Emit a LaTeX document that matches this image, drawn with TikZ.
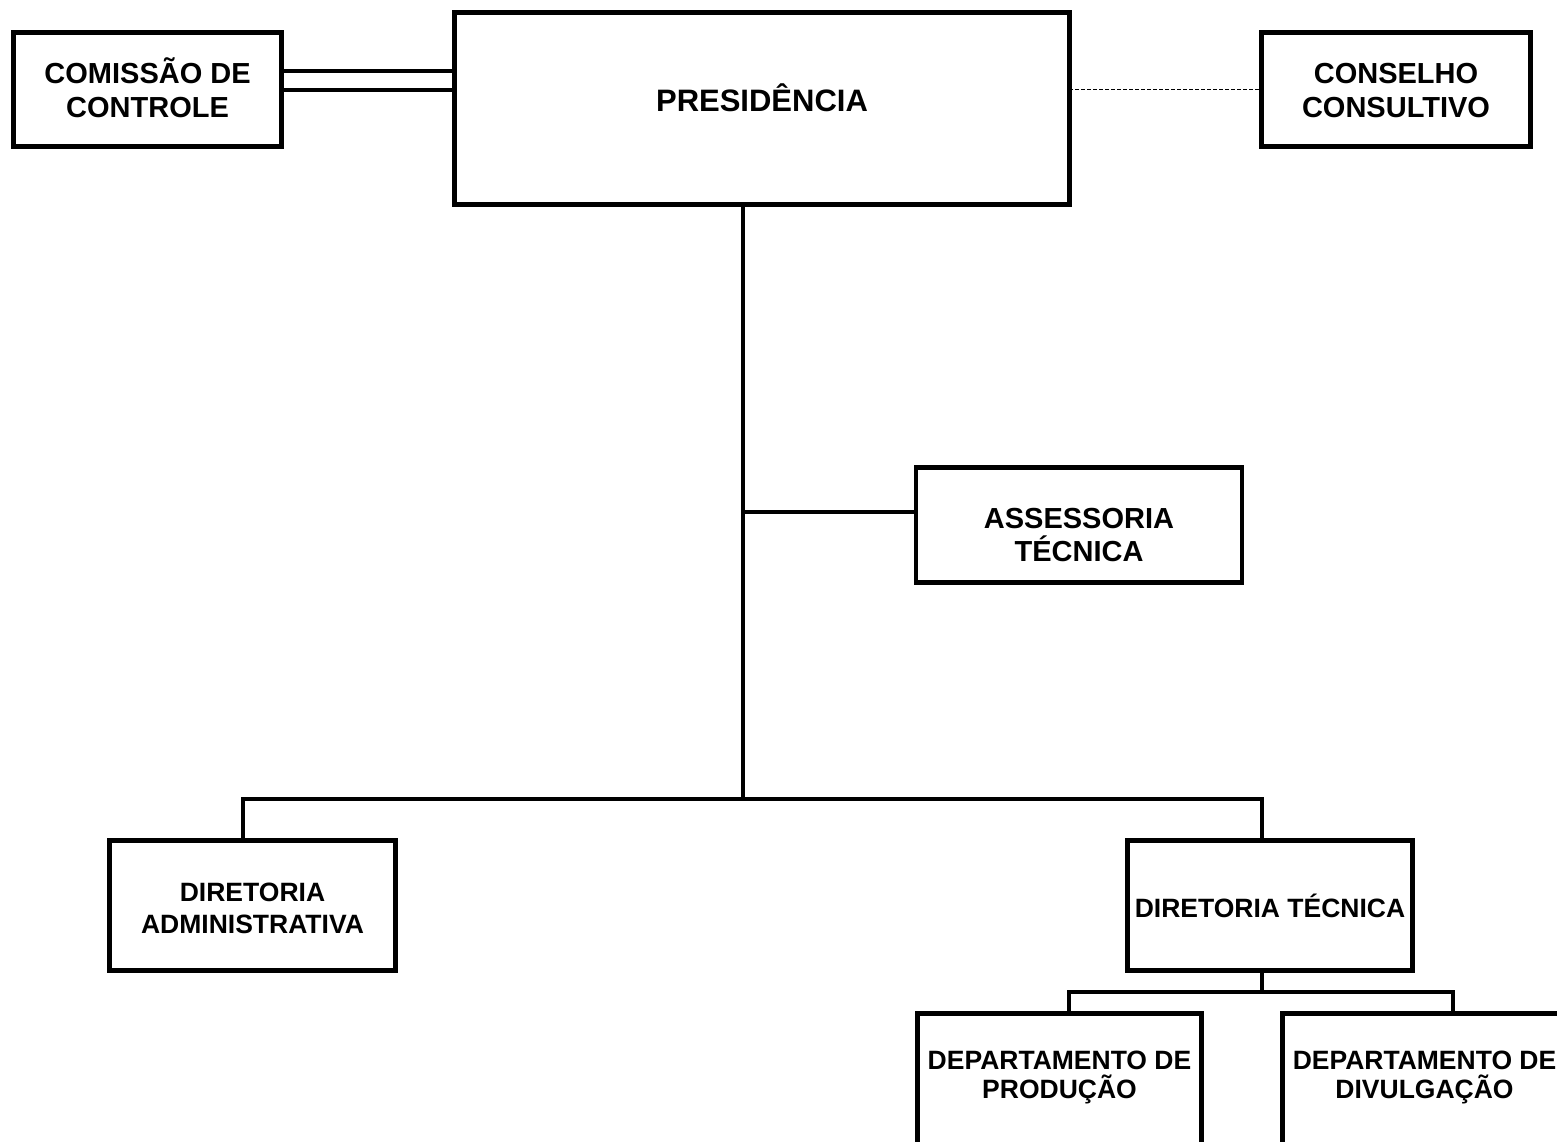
\documentclass[tikz,border=0pt]{standalone}
\usepackage{fontspec}
\setmainfont{Liberation Sans}

\begin{document}
\begin{tikzpicture}[x=1pt,y=-1pt,
  orgbox/.style={draw,line width=4.8pt,inner sep=0pt,align=center,text depth=0pt,font=\fontsize{29}{33.4}\bfseries\selectfont},
  lowbox/.style={orgbox,font=\fontsize{26.5}{31.6}\bfseries\selectfont},
  deptbox/.style={orgbox,font=\fontsize{26.5}{29.3}\bfseries\selectfont,text height=35.6pt},
  link/.style={line width=4pt}]
\useasboundingbox (0,0) rectangle (1557,1141);
\clip (0,0) rectangle (1557,1141);
\node[orgbox,minimum width=268,minimum height=114,text height=55pt] (comissao) at (147.6,89.5) {COMISSÃO DE\\CONTROLE};
\node[orgbox,minimum width=614.5,minimum height=192,font=\fontsize{31}{33}\bfseries\selectfont,text height=6.4pt] (pres) at (762,108.5) {PRESIDÊNCIA};
\node[orgbox,minimum width=269,minimum height=114,text height=55pt] (conselho) at (1396,89.5) {CONSELHO\\CONSULTIVO};
\node[orgbox,minimum width=326,minimum height=115,text height=73.4pt] (assess) at (1079,525) {ASSESSORIA\\TÉCNICA};
\node[lowbox,minimum width=286,minimum height=130,text height=55.6pt] (diradm) at (252.5,905.5) {DIRETORIA\\ADMINISTRATIVA};
\node[lowbox,minimum width=285,minimum height=130,text height=23.6pt] (dirtec) at (1270,905.5) {DIRETORIA TÉCNICA};
\node[deptbox,minimum width=284,minimum height=134] (prod) at (1059.5,1080.5) {DEPARTAMENTO DE\\PRODUÇÃO};
\node[deptbox,minimum width=284,minimum height=134] (divulg) at (1424.5,1080.5) {DEPARTAMENTO DE\\DIVULGAÇÃO};
\coordinate (bus) at (743,799);
\coordinate (split) at (1262,992);
\draw[line width=4pt,double,double distance=15pt] ([yshift=9.5pt]comissao.east) -- ([yshift=9.5pt]comissao.east -| pres.west);
\draw[dashed,line width=1.3pt,dash pattern=on 4pt off 2pt] (conselho.west) -- (conselho.west -| pres.east);
\draw[link] (pres.south -| bus) -- (bus);
\draw[link] ([yshift=13pt]assess.west) -- ([yshift=13pt]assess.west -| bus);
\draw[link] ([xshift=-9.5pt]diradm.north) |- (bus -| split) -- (dirtec.north -| split);
\draw[link] (dirtec.south -| split) -- (split);
\draw[link] ([xshift=9.5pt]prod.north) |- ([xshift=28.5pt]divulg.north |- split) -- ([xshift=28.5pt]divulg.north);
\end{tikzpicture}
\end{document}
